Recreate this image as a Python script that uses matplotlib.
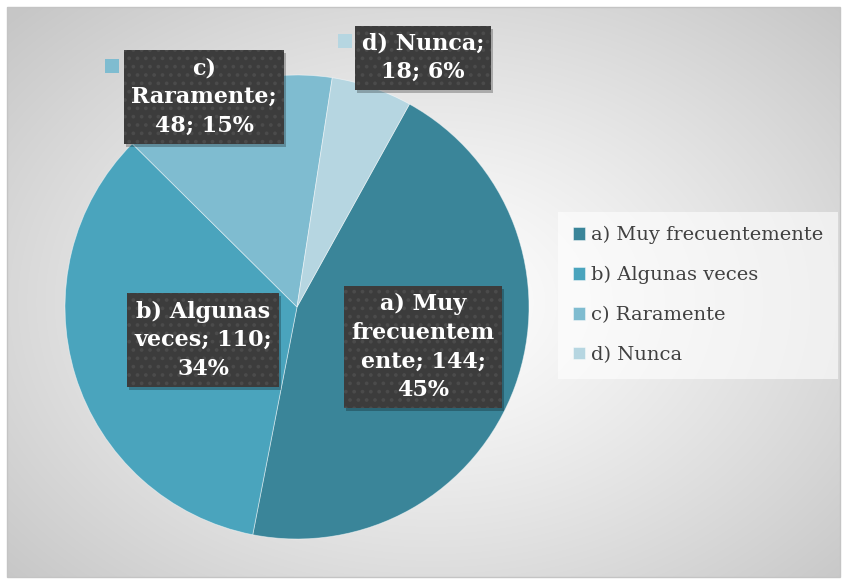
import numpy as np
import matplotlib
matplotlib.use("Agg")
import matplotlib.pyplot as plt
from matplotlib.patches import Rectangle

# data
categories = ["a) Muy frecuentemente", "b) Algunas veces", "c) Raramente", "d) Nunca"]
counts = [144, 110, 48, 18]
colors = ["#3a8599", "#4aa4bd", "#7fbcd0", "#b6d6e1"]
# data label text as Excel wrapped it
label_texts = ["a) Muy\nfrecuentem\nente; {};\n{}%",
               "b) Algunas\nveces; {};\n{}%",
               "c)\nRaramente;\n{}; {}%",
               "d) Nunca;\n{}; {}%"]

W, H = 843, 580
fig = plt.figure(figsize=(W / 100, H / 100), dpi=100)


def fx(px):
    return px / W


def fy(py):
    return 1 - py / H


# background: white frame + radial grey gradient chart area
bg = fig.add_axes([0, 0, 1, 1])
bg.set_xlim(0, W)
bg.set_ylim(H, 0)
bg.axis("off")
yy, xx = np.mgrid[0:H, 0:W]
r = np.sqrt(((xx - 430) / 580.0) ** 2 + ((yy - 300) / 420.0) ** 2)
shade = 1 - 0.22 * np.clip(r, 0, 1) ** 1.2
img = np.dstack([shade, shade, shade])
bg.imshow(img, extent=(7, 840, 577, 7), aspect="auto", zorder=0)
bg.add_patch(Rectangle((7, 7), 833, 570, fill=False, edgecolor="#c4c4c4", lw=1.0, zorder=1))

# pie
cx, cy, rad = 297, 307, 232
ax = fig.add_axes([fx(cx - rad), fy(cy + rad), 2 * rad / W, 2 * rad / H])
wedges, _ = ax.pie(counts, colors=colors, startangle=61, counterclock=False,
                   radius=1, wedgeprops=dict(edgecolor=(1, 1, 1, 0.5), linewidth=0.6))
ax.set_xlim(-1, 1)
ax.set_ylim(-1, 1)
ax.axis("off")

# data labels in dark dotted boxes
plt.rcParams["hatch.linewidth"] = 1.5
total = sum(counts)
label_pos = [(423, 347), (203, 340), (204, 97), (423, 58)]
labels = []
for i, (txt, (px, py)) in enumerate(zip(label_texts, label_pos)):
    pct = int(round(100.0 * counts[i] / total))
    t = fig.text(fx(px), fy(py), txt.format(counts[i], pct), ha="center", va="center",
                 multialignment="center", fontsize=16, fontweight="bold",
                 family="DejaVu Serif", linespacing=1.38, color="white", zorder=5,
                 bbox=dict(boxstyle="square,pad=0.32", facecolor="#3c3c3c",
                           edgecolor="#4b4b4b", linewidth=0, hatch=".."))
    labels.append(t)

# drop shadows behind the label boxes (need the box extents first)
fig.canvas.draw()
for t in labels:
    ext = t.get_bbox_patch().get_window_extent()
    shadow = Rectangle(((ext.x0 + 2) / W, (ext.y0 - 3) / H), ext.width / W, ext.height / H,
                       transform=fig.transFigure, facecolor=(0, 0, 0, 0.25),
                       edgecolor="none", zorder=4)
    fig.add_artist(shadow)

# little legend keys beside the top labels
bg.add_patch(Rectangle((105, 59), 14, 14, facecolor=colors[2], edgecolor="none", zorder=3))
bg.add_patch(Rectangle((338, 34), 14, 14, facecolor=colors[3], edgecolor="none", zorder=3))

# legend
leg = fig.legend(wedges, categories, loc="center left", bbox_to_anchor=(fx(558), fy(295)),
                 frameon=True, fancybox=False, framealpha=0.6, facecolor="white",
                 edgecolor="none", handlelength=0.62, handleheight=0.62, handletextpad=0.35,
                 labelspacing=1.12, borderpad=0.75, borderaxespad=0,
                 prop=dict(family="DejaVu Serif", size=14))
for text in leg.get_texts():
    text.set_color("#404040")

fig.savefig("out.png", dpi=100)
